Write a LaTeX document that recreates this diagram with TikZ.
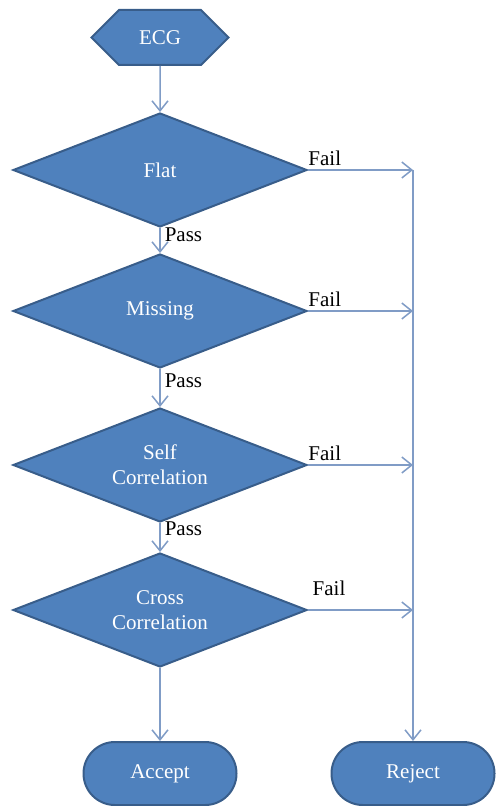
\documentclass[tikz,border=0pt]{standalone}
\usepackage{fontspec}
\setmainfont{Liberation Serif}
\usetikzlibrary{shapes.geometric,shapes.symbols,arrows.meta}
\definecolor{boxblue}{RGB}{79,129,189}
\definecolor{edgeblue}{RGB}{56,93,138}
\definecolor{flowblue}{RGB}{128,156,198}
\begin{document}
\begin{tikzpicture}[x=0.5pt,y=-0.5pt,
		font=\fontsize{10.5}{12.5}\selectfont,
		block/.style={fill=boxblue,draw=edgeblue,line width=1pt,text=white,align=center,inner sep=0pt},
		test/.style={block,diamond,aspect=2.58,minimum width=147pt,minimum height=57pt},
		stop/.style={block,rectangle,rounded corners=15.7pt,minimum height=31.5pt},
		flow/.style={draw=flowblue,line width=0.75pt,-{Straight Barb[length=5pt,width=8pt]}},
		lbl/.style={text=black,inner sep=2pt}]
	\useasboundingbox (0,0) rectangle (496,806);
	\node[block,signal,signal to=east and west,minimum width=68.5pt,minimum height=27.5pt] (ecg) at (160,37.5) {ECG};
	\node[test] (flat) at (160,170) {Flat};
	\node[test] (missing) at (160,311) {Missing};
	\node[test] (selfcorr) at (160,465) {Self\\Correlation};
	\node[test] (crosscorr) at (160,610) {Cross\\Correlation};
	\node[stop,minimum width=76.5pt] (accept) at (160,773.5) {Accept};
	\node[stop,minimum width=81.5pt] (reject) at (413,773.5) {Reject};
	\coordinate (railtop) at (reject.north |- flat.east);
	% main line
	\draw[flow] (ecg) -- (flat);
	\draw[flow] (flat) -- node[lbl,right,pos=0.25] {Pass} (missing);
	\draw[flow] (missing) -- node[lbl,right,pos=0.3] {Pass} (selfcorr);
	\draw[flow] (selfcorr) -- node[lbl,right,pos=0.2] {Pass} (crosscorr);
	\draw[flow] (crosscorr) -- (accept);
	% fail branches
	\draw[flow] (flat.east) -- node[lbl,above,pos=0.16] {Fail} (railtop);
	\draw[flow] (missing.east) -- node[lbl,above,pos=0.16] {Fail} (missing.east -| railtop);
	\draw[flow] (selfcorr.east) -- node[lbl,above,pos=0.16] {Fail} (selfcorr.east -| railtop);
	\draw[flow] (crosscorr.east) -- node[lbl,above=5pt,pos=0.2] {Fail} (crosscorr.east -| railtop);
	\draw[flow] (railtop) -- (reject);
\end{tikzpicture}
\end{document}
